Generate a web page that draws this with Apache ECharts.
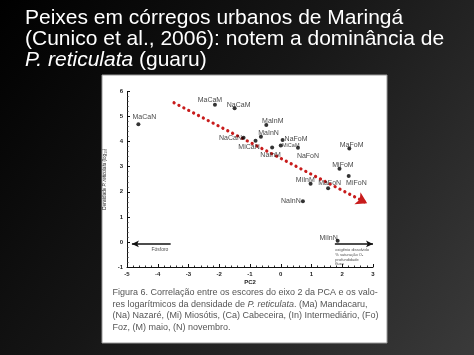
<!DOCTYPE html>
<html><head><meta charset="utf-8">
<script src="https://cdn.jsdelivr.net/npm/echarts@6/dist/echarts.min.js"></script>
<style>html,body{margin:0;padding:0;background:#000;}#c{width:474px;height:355px;}</style>
</head><body><div id="c"></div>
<script>
// ---- data ----
const sampleNames = ['MaCaN','MaCaM','NaCaM','NaCaN','MiCaN','MaInM','MaInN','NaInM','NaFoM','MiCaM','NaFoN','MaFoM','MiFoM','MiFoN','MaFoN','MiInM','NaInN','MiInN'];
const pc2Scores   = [-4.63,-2.14,-1.50,-1.21,-0.82,-0.47,-0.645,-0.28,0.06,0.0,0.56,2.23,1.91,2.21,1.54,0.97,0.72,1.85];
const logDensity  = [4.69,5.47,5.33,4.16,4.04,4.66,4.20,3.77,4.07,3.85,3.76,3.73,2.92,2.63,2.14,2.32,1.62,0.05];
const trendX = [-3.47, 2.81];
const trendY = [5.55, 1.54];
const phosphorusArrowX = [-3.58, -4.84];
const oxygenArrowX = [1.76, 3.0];
const gradientArrowY = -0.08;
const xTickValues = [-5,-4,-3,-2,-1,0,1,2,3];
const yTickValues = [-1,0,1,2,3,4,5,6];
const oxygenNotes = ['oxigênio dissolvido','% saturação O₂','profundidade','fluxo'];
const titleLines = ['Peixes em córregos urbanos de Maringá','(Cunico et al., 2006): notem a dominância de'];
const captionLines = [
  'Figura 6. Correlação entre os escores do eixo 2 da PCA e os valo-',
  'res logarítmicos da densidade de {i|P. reticulata}. (Ma) Mandacaru,',
  '(Na) Nazaré, (Mi) Miosótis, (Ca) Cabeceira, (In) Intermediário, (Fo)',
  'Foz, (M) maio, (N) novembro.'
];

// ---- label placement (style) ----
const labelOffsets = {
  MaCaN:[6,-7], MaCaM:[-5,-4.5], NaCaM:[4,-3.6], NaCaN:[-13,0], MiCaN:[-6.5,6.5],
  MaInM:[6.5,-4.3], MaInN:[7.6,-4], NaInM:[-1.5,8], NaFoM:[13.5,-0.7], MiCaM:[10,0],
  NaFoN:[10,8], MaFoM:[2.3,-3.5], MiFoM:[3.5,-3.7], MiFoN:[7.7,6.7], MaFoN:[1.5,-5],
  MiInM:[-5.3,-3.7], NaInN:[-12,0], MiInN:[-9,-2.5]
};

const chart = echarts.init(document.getElementById('c'), null, {renderer:'canvas'});
const F = '"Liberation Sans", Arial, sans-serif';

const points = sampleNames.map((n,i)=>({
  name:n, value:[pc2Scores[i], logDensity[i]],
  label:{offset: labelOffsets[n], fontSize: n==='MiCaM'?5.5:7}
}));

const notes = oxygenNotes.map((t,i)=>({
  name:t, value:[oxygenArrowX[0], gradientArrowY - 0.24 - i*0.19]
}));

const option = {
  animation:false,
  backgroundColor:{type:'linear',x:0,y:0,x2:1,y2:1,colorStops:[{offset:0,color:'#000'},{offset:0.45,color:'#161616'},{offset:1,color:'#3a3a3a'}]},
  graphic:[
    {type:'rect', z:0, shape:{x:102,y:75,width:285,height:268}, style:{fill:'#fff', stroke:'#9a9a9a', lineWidth:1}},
    {type:'text', z:1, left:25, top:8, style:{
      text: titleLines[0] + '\n' + titleLines[1] + '\n{i|P. reticulata} (guaru)',
      fill:'#fff', font:'21px '+F, lineHeight:21,
      rich:{i:{fontStyle:'italic', fontSize:21, fontFamily:F, fill:'#fff', lineHeight:21}}
    }},
    {type:'text', z:1, left:112.5, top:287, style:{
      text: captionLines.join('\n'), fill:'#555', font:'9px '+F, lineHeight:11.5,
      rich:{i:{fontStyle:'italic', fontSize:9, fontFamily:F, fill:'#555', lineHeight:11.5}}
    }}
  ],
  grid:{left:127, right:101, top:91.5, bottom:88, containLabel:false},
  xAxis:{
    type:'value', min:-5, max:3, interval:1,
    name:'PC2', nameLocation:'middle', nameGap:12,
    nameTextStyle:{fontSize:6, fontFamily:F, color:'#222', fontWeight:'bold'},
    axisLine:{show:true, onZero:false, lineStyle:{color:'#111', width:1}},
    axisTick:{show:true, inside:true, length:3, lineStyle:{color:'#111'}},
    minorTick:{show:true, splitNumber:5, length:1.5, lineStyle:{color:'#333'}},
    axisLabel:{fontSize:6, fontFamily:F, color:'#222', fontWeight:'bold', margin:4,
      formatter:v=> xTickValues.includes(v)? String(v):''},
    splitLine:{show:false}
  },
  yAxis:{
    type:'value', min:-1, max:6, interval:1,
    name:'Densidade {i|P. reticulata} (log₁₀)', nameLocation:'middle', nameGap:10, nameRotate:90,
    nameTextStyle:{fontSize:4.6, fontFamily:F, color:'#222', rich:{i:{fontStyle:'italic', fontSize:4.6, fontFamily:F, color:'#222'}}},
    axisLine:{show:true, onZero:false, lineStyle:{color:'#111', width:1}},
    axisTick:{show:true, inside:true, length:3, lineStyle:{color:'#111'}},
    minorTick:{show:true, splitNumber:5, length:1.5, lineStyle:{color:'#333'}},
    axisLabel:{fontSize:6, fontFamily:F, color:'#222', fontWeight:'bold', margin:4,
      formatter:v=> yTickValues.includes(v)? String(v):''},
    splitLine:{show:false}
  },
  series:[
    {
      type:'scatter', name:'samples', z:5, symbolSize:4,
      itemStyle:{color:'#000'},
      label:{show:true, position:'inside', formatter:'{b}', fontFamily:F, color:'#111'},
      data: points
    },
    {
      type:'scatter', name:'annotations', z:4, symbol:'circle', symbolSize:1,
      itemStyle:{color:'rgba(0,0,0,0)'},
      label:{show:true, position:'right', distance:0, formatter:'{b}', fontFamily:F, fontSize:4, color:'#222'},
      data: notes.concat([{name:'Fósforo', value:[-3.93,-0.29], label:{fontSize:5, position:'inside'}}]),
      markLine:{
        silent:true, animation:false, label:{show:false},
        data:[
          [{coord:[trendX[0],trendY[0]], symbol:'none',
            lineStyle:{color:'#c81c1c', width:3.2, type:[0.1,5.4], cap:'round'}},
           {coord:[trendX[1],trendY[1]], symbol:'arrow', symbolSize:[10,11], itemStyle:{color:'#e01818'}}],
          [{coord:[phosphorusArrowX[0],gradientArrowY], symbol:'none', lineStyle:{color:'#111', width:1.5, type:'solid'}},
           {coord:[phosphorusArrowX[1],gradientArrowY], symbol:'arrow', symbolSize:[5,7], itemStyle:{color:'#111'}}],
          [{coord:[oxygenArrowX[0],gradientArrowY], symbol:'none', lineStyle:{color:'#111', width:1.5, type:'solid'}},
           {coord:[oxygenArrowX[1],gradientArrowY], symbol:'arrow', symbolSize:[5,7], itemStyle:{color:'#111'}}]
        ]
      }
    }
  ]
};
chart.setOption(option);
</script></body></html>
